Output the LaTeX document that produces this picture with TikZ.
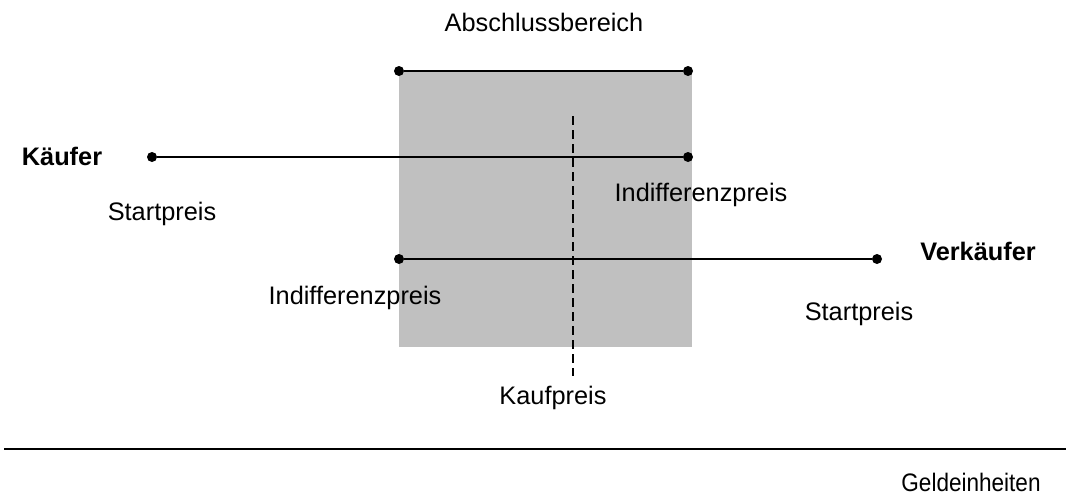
\documentclass[tikz,border=0pt]{standalone}
\usepackage{fontspec}
\setmainfont{Liberation Sans}
\definecolor{zone}{RGB}{192,192,192}
\begin{document}
\begin{tikzpicture}[x=0.75pt,y=-0.75pt,
  lbl/.style={inner sep=0pt,font=\fontsize{19}{22}\selectfont},
  blbl/.style={lbl,font=\fontsize{19}{22}\selectfont\bfseries},
  dot/.style={circle,fill=black,inner sep=0pt,minimum size=7.5pt},
  line/.style={line width=1.5pt},
  cut/.style={line width=1.5pt,dash pattern=on 7pt off 3.5pt}]
\useasboundingbox (0,0) rectangle (1066,496);
% agreement zone
\fill[zone] (399,72) rectangle (692,347);
% end points of the price ranges
\node[dot] (zl) at (399,71) {};
\node[dot] (zr) at (688,71) {};
\node[dot] (ks) at (152,157) {};
\node[dot] (ki) at (688,157) {};
\node[dot] (vi) at (399,259) {};
\node[dot] (vs) at (877,259) {};
\draw[line] (zl) -- (zr);
\draw[line] (ks) -- (ki);
\draw[line] (vi) -- (vs);
% purchase price
\coordinate (kt) at (573,116);
\coordinate (kb) at (573,376);
\draw[cut] (kt) -- (kb);
% money axis
\coordinate (al) at (4,449);
\coordinate (ar) at (1066,449);
\draw[line] (al) -- (ar);
% labels
\node[lbl] (tzone) at (544,22) {Abschlussbereich};
\node[blbl] (tk) at (62,156) {Käufer};
\node[lbl] (tks) at (162,214) {Startpreis};
\node[lbl] (tki) at (701,195) {Indifferenzpreis};
\node[blbl] (tv) at (978,251) {Verkäufer};
\node[lbl] (tvi) at (355,298) {Indifferenzpreis};
\node[lbl] (tvs) at (859,314) {Startpreis};
\node[lbl] (tkp) at (553,398) {Kaufpreis};
\node[lbl] (tg) at (971,482) {\scalebox{0.89}[1]{Geldeinheiten}};
\end{tikzpicture}
\end{document}
